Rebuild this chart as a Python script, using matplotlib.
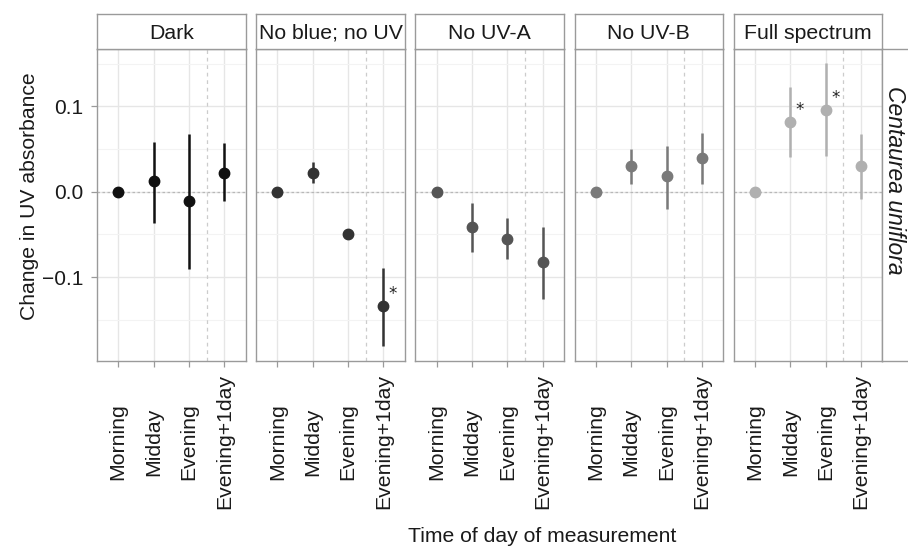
import matplotlib.pyplot as plt
import numpy as np

plt.rcParams['font.family'] = ['Liberation Sans', 'DejaVu Sans']

times = ['Morning', 'Midday', 'Evening', 'Evening+1day']
treatments = ['Dark', 'No blue; no UV', 'No UV-A', 'No UV-B', 'Full spectrum']
colors = ['#111111', '#333333', '#555555', '#7a7a7a', '#b0b0b0']

# mean change and interval ends for each treatment, in order of times
dark_mean = [0.0, 0.012, -0.011, 0.022]
dark_lo = [0.0, -0.036, -0.090, -0.011]
dark_hi = [0.0, 0.058, 0.068, 0.057]

noblue_mean = [0.0, 0.022, -0.050, -0.134]
noblue_lo = [0.0, 0.010, -0.052, -0.181]
noblue_hi = [0.0, 0.035, -0.048, -0.089]

uva_mean = [0.0, -0.041, -0.055, -0.082]
uva_lo = [0.0, -0.070, -0.079, -0.125]
uva_hi = [0.0, -0.013, -0.031, -0.041]

uvb_mean = [0.0, 0.030, 0.018, 0.039]
uvb_lo = [0.0, 0.009, -0.020, 0.009]
uvb_hi = [0.0, 0.050, 0.054, 0.069]

full_mean = [0.0, 0.082, 0.096, 0.030]
full_lo = [0.0, 0.041, 0.042, -0.009]
full_hi = [0.0, 0.123, 0.151, 0.068]

# (panel, time index) pairs marked with an asterisk
signif = [(1, 3), (4, 1), (4, 2)]

means = [dark_mean, noblue_mean, uva_mean, uvb_mean, full_mean]
los = [dark_lo, noblue_lo, uva_lo, uvb_lo, full_lo]
his = [dark_hi, noblue_hi, uva_hi, uvb_hi, full_hi]

W, H = 908, 547
fig = plt.figure(figsize=(W / 100, H / 100), dpi=100)

border = '#9a9a9a'
panel_w = 148.5
step = 159.2
left0 = 97
p_top, p_bot = 49, 361
strip_top = 14
fs = 15.3

x = np.arange(1, 5)
for i, name in enumerate(treatments):
    l = left0 + i * step
    ax = fig.add_axes([l / W, (H - p_bot) / H, panel_w / W, (p_bot - p_top) / H])
    ax.set_xlim(0.4, 4.6)
    ax.set_ylim(-0.198, 0.167)

    ax.set_yticks([-0.1, 0.0, 0.1])
    ax.set_yticks([-0.15, -0.05, 0.05, 0.15], minor=True)
    ax.set_xticks(x)
    ax.grid(True, which='major', color='#e6e6e6', linewidth=1.0)
    ax.grid(True, which='minor', axis='y', color='#f3f3f3', linewidth=0.8)
    ax.set_axisbelow(True)

    ax.axhline(0, color='#b8b8b8', linewidth=0.9, linestyle=(0, (2, 2)), zorder=1)
    ax.axvline(3.5, color='#cccccc', linewidth=0.9, linestyle=(0, (3, 3)), zorder=1)

    m = np.array(means[i])
    err = [m - np.array(los[i]), np.array(his[i]) - m]
    ax.errorbar(x, m, yerr=err, fmt='o', color=colors[i], ms=7.5,
                elinewidth=1.8, capsize=0, zorder=3)

    for p, k in signif:
        if p == i:
            ax.text(x[k] + 0.27, m[k] + 0.014, '*', fontsize=12,
                    family='DejaVu Sans', ha='center', va='center', color='#222222')

    for s in ax.spines.values():
        s.set_color(border)
        s.set_linewidth(1.0)
    ax.tick_params(axis='both', which='major', color=border, length=4, width=0.9)
    ax.tick_params(axis='y', which='minor', length=0)
    ax.tick_params(axis='x', pad=54, labelsize=fs, colors='#1a1a1a')
    ax.tick_params(axis='x', color=border)
    ax.set_xticklabels(times, rotation=90, ha='center', va='center')
    if i == 0:
        ax.set_yticklabels(['\u22120.1', '0.0', '0.1'])
        ax.tick_params(axis='y', labelsize=15, pad=6, colors='#1a1a1a')
        ax.tick_params(axis='y', color=border)
    else:
        ax.tick_params(axis='y', left=False, labelleft=False)

    # facet strip on top
    sx = fig.add_axes([l / W, (H - p_top) / H, panel_w / W, (p_top - strip_top) / H])
    sx.set_xticks([])
    sx.set_yticks([])
    sx.set_facecolor('white')
    for s in sx.spines.values():
        s.set_color(border)
        s.set_linewidth(1.0)
    sx.text(0.5, 0.45, name, ha='center', va='center', fontsize=fs,
            transform=sx.transAxes, color='#1a1a1a')

# row strip on the right
l_r = left0 + 4 * step + panel_w
rx = fig.add_axes([l_r / W, (H - p_bot) / H, 34 / W, (p_bot - p_top) / H])
rx.set_xticks([])
rx.set_yticks([])
for s in rx.spines.values():
    s.set_color(border)
    s.set_linewidth(1.0)
fig.text(895 / W, 1 - 180 / H, 'Centaurea uniflora', rotation=-90, style='italic',
         ha='center', va='center', fontsize=16.5, color='#1a1a1a')

fig.text(30 / W, 1 - 196 / H, 'Change in UV absorbance', rotation=90,
         ha='center', va='center', fontsize=15.2, color='#1a1a1a')
fig.text(542 / W, 1 - 536 / H, 'Time of day of measurement',
         ha='center', va='center', fontsize=15.2, color='#1a1a1a')

fig.savefig('out.png', dpi=100)
